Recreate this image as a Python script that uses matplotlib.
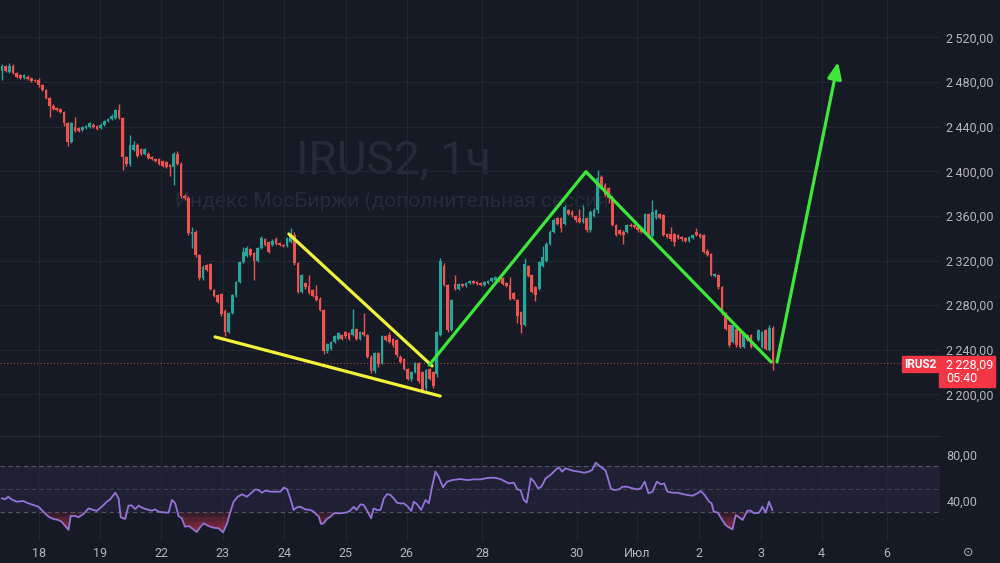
import numpy as np
import matplotlib.pyplot as plt
from matplotlib.patches import Rectangle

plt.rcParams['font.family'] = ['Roboto', 'DejaVu Sans']

# IRUS2, hourly candles (index points)
opens = [2490, 2494, 2489, 2494, 2488, 2486, 2484, 2485, 2484, 2482,
         2482, 2477, 2473, 2466, 2459, 2457, 2456, 2453, 2443, 2426,
         2440, 2439, 2437, 2439, 2440, 2442, 2441, 2439, 2442, 2445,
         2447, 2448, 2455, 2448, 2413, 2407, 2419, 2424, 2420, 2416,
         2416, 2413, 2411, 2411, 2409, 2408, 2406, 2404, 2416, 2407,
         2378, 2376, 2344, 2346, 2325,
         2304, 2316, 2317, 2294, 2289, 2290, 2275, 2256, 2273, 2289,
         2301, 2319, 2324, 2330, 2327, 2320, 2331, 2339, 2337, 2334,
         2339, 2336, 2334, 2333, 2337, 2343, 2318, 2292, 2300, 2297,
         2294, 2288, 2286, 2276, 2239, 2241, 2247, 2250, 2253, 2256,
         2255, 2253, 2259, 2250, 2256, 2253, 2234, 2221, 2237, 2228,
         2252, 2253, 2250, 2249, 2234, 2232, 2223, 2214, 2220, 2228,
         2220, 2206, 2223, 2220, 2218, 2253,
         2315, 2298, 2258, 2299, 2295, 2299, 2297, 2300, 2302, 2301,
         2300, 2298, 2300, 2302, 2303, 2305, 2304, 2300, 2298, 2291,
         2285, 2274, 2262, 2315, 2307, 2296, 2295, 2315, 2320, 2335,
         2346, 2358, 2358, 2353, 2365, 2364, 2360, 2358, 2355, 2358,
         2347, 2360, 2365,
         2395, 2388, 2385, 2376, 2352, 2347, 2346, 2346, 2352, 2352,
         2350, 2349, 2345, 2362, 2342, 2358, 2362, 2361, 2344, 2344,
         2344, 2343, 2341, 2340, 2338, 2340, 2346, 2344, 2343, 2329,
         2326, 2306, 2307, 2296, 2273, 2262, 2247, 2259, 2256, 2243,
         2253, 2253, 2243, 2249, 2243, 2258, 2240, 2260]
highs = [2496, 2495, 2497, 2496, 2489, 2487, 2487, 2486, 2485, 2483,
         2484, 2478, 2474, 2467, 2460, 2458, 2457, 2454, 2444, 2444,
         2449, 2440, 2441, 2442, 2444, 2443, 2442, 2443, 2446, 2448,
         2451, 2456, 2460, 2449, 2414, 2433, 2427, 2425, 2421, 2421,
         2417, 2414, 2412, 2412, 2410, 2409, 2407, 2417, 2418, 2408,
         2380, 2378, 2350, 2347, 2326,
         2316, 2317, 2318, 2295, 2290, 2291, 2277, 2274, 2290, 2302,
         2320, 2332, 2333, 2331, 2328, 2332, 2342, 2340, 2338, 2339,
         2341, 2337, 2335, 2341, 2349, 2346, 2319, 2308, 2301, 2307,
         2295, 2298, 2287, 2277, 2246, 2248, 2253, 2256, 2254, 2257,
         2256, 2277, 2260, 2257, 2273, 2254, 2235, 2238, 2238, 2253,
         2253, 2256, 2251, 2250, 2235, 2233, 2224, 2221, 2229, 2229,
         2221, 2223, 2224, 2221, 2257, 2322,
         2318, 2299, 2286, 2307, 2300, 2300, 2301, 2303, 2303, 2302,
         2301, 2302, 2303, 2305, 2306, 2306, 2305, 2301, 2305, 2292,
         2286, 2275, 2322, 2316, 2308, 2297, 2320, 2333, 2337, 2347,
         2358, 2359, 2359, 2370, 2366, 2365, 2361, 2366, 2370, 2359,
         2365, 2367, 2401,
         2397, 2390, 2386, 2378, 2353, 2348, 2347, 2353, 2354, 2353,
         2351, 2350, 2363, 2363, 2374, 2366, 2363, 2362, 2345, 2350,
         2345, 2344, 2342, 2341, 2342, 2344, 2349, 2345, 2344, 2330,
         2327, 2309, 2308, 2297, 2274, 2263, 2263, 2260, 2257, 2256,
         2254, 2254, 2245, 2259, 2257, 2259, 2262, 2261]
lows = [2482, 2489, 2488, 2487, 2484, 2483, 2483, 2482, 2480, 2480,
        2476, 2472, 2465, 2449, 2455, 2454, 2452, 2441, 2423, 2425,
        2435, 2435, 2436, 2438, 2439, 2439, 2437, 2438, 2441, 2444,
        2446, 2447, 2447, 2401, 2405, 2405, 2418, 2413, 2415, 2415,
        2411, 2410, 2408, 2406, 2404, 2403, 2396, 2388, 2406, 2376,
        2374, 2343, 2331, 2323, 2303,
        2303, 2311, 2294, 2287, 2282, 2270, 2252, 2255, 2272, 2287,
        2300, 2318, 2323, 2324, 2303, 2319, 2330, 2333, 2327, 2333,
        2334, 2333, 2332, 2332, 2336, 2316, 2291, 2291, 2295, 2290,
        2287, 2284, 2275, 2236, 2237, 2240, 2246, 2249, 2249, 2251,
        2249, 2252, 2249, 2249, 2252, 2233, 2219, 2219, 2225, 2227,
        2248, 2246, 2243, 2234, 2228, 2222, 2213, 2212, 2219, 2210,
        2202, 2204, 2213, 2206, 2216, 2252,
        2297, 2256, 2257, 2294, 2294, 2296, 2296, 2299, 2299, 2298,
        2297, 2297, 2299, 2301, 2302, 2301, 2298, 2296, 2285, 2285,
        2264, 2255, 2261, 2305, 2291, 2284, 2294, 2314, 2319, 2334,
        2345, 2352, 2346, 2352, 2361, 2359, 2355, 2354, 2354, 2346,
        2346, 2359, 2363,
        2384, 2378, 2372, 2351, 2342, 2343, 2335, 2345, 2350, 2349,
        2346, 2345, 2344, 2340, 2341, 2357, 2357, 2342, 2340, 2338,
        2333, 2339, 2338, 2337, 2337, 2339, 2342, 2340, 2327, 2324,
        2306, 2305, 2295, 2271, 2258, 2243, 2246, 2243, 2242, 2242,
        2248, 2242, 2242, 2248, 2242, 2240, 2239, 2222]
closes = [2494, 2490, 2494, 2488, 2485, 2484, 2486, 2483, 2481, 2481,
          2477, 2473, 2466, 2459, 2456, 2455, 2453, 2443, 2426, 2443,
          2436, 2436, 2440, 2441, 2443, 2440, 2438, 2442, 2445, 2447,
          2450, 2455, 2448, 2413, 2407, 2424, 2424, 2414, 2416, 2420,
          2412, 2411, 2409, 2407, 2405, 2404, 2404, 2416, 2407, 2378,
          2376, 2345, 2346, 2325, 2304,
          2314, 2312, 2295, 2288, 2283, 2272, 2256, 2273, 2289, 2301,
          2319, 2328, 2331, 2325, 2320, 2331, 2340, 2334, 2328, 2338,
          2335, 2334, 2333, 2340, 2344, 2318, 2292, 2307, 2296, 2291,
          2288, 2285, 2276, 2239, 2245, 2247, 2252, 2255, 2250, 2252,
          2250, 2259, 2250, 2256, 2253, 2234, 2221, 2237, 2227, 2252,
          2249, 2247, 2244, 2235, 2229, 2223, 2214, 2220, 2228, 2212,
          2204, 2222, 2214, 2208, 2256, 2320,
          2298, 2258, 2285, 2295, 2299, 2297, 2300, 2302, 2300, 2299,
          2298, 2301, 2302, 2304, 2305, 2303, 2299, 2297, 2286, 2286,
          2270, 2262, 2317, 2306, 2292, 2289, 2319, 2323, 2335, 2346,
          2356, 2353, 2349, 2368, 2362, 2361, 2356, 2355, 2357, 2347,
          2364, 2365, 2394,
          2385, 2379, 2376, 2352, 2343, 2344, 2343, 2352, 2351, 2350,
          2347, 2346, 2362, 2341, 2364, 2365, 2358, 2343, 2341, 2339,
          2337, 2340, 2339, 2338, 2341, 2343, 2343, 2341, 2328, 2325,
          2307, 2308, 2296, 2273, 2259, 2244, 2262, 2244, 2243, 2255,
          2249, 2243, 2244, 2258, 2256, 2241, 2260, 2228.09]

# RSI(14) read at its turning points (bar position, value)
rsi_x = [0.0, 0.8, 1.7, 2.6, 4.0, 5.8, 7.2, 8.6, 10.0, 11.3, 12.7, 14.1, 15.4,
         16.3, 17.3, 18.2, 18.8, 20.0, 20.9, 22.3, 23.7, 25.0, 25.9, 27.3, 28.7,
         29.6, 31.0, 31.9, 32.5, 33.7, 34.6, 35.5, 36.4, 37.4, 38.3, 39.6, 41.0,
         41.9, 42.8, 44.2, 45.6, 46.5, 47.4, 48.3, 49.2, 50.1, 51.1, 52.0, 53.3,
         54.2, 55.2, 56.5, 57.9, 59.3, 60.5, 61.6, 62.5, 63.4, 64.5, 65.7, 67.0,
         68.1, 69.3, 70.2, 71.1, 72.1, 73.4, 75.3, 76.2, 77.1, 78.0, 78.9, 79.8,
         80.7, 81.6, 83.0, 84.4, 85.3, 86.7, 87.3, 88.0, 88.9, 89.9, 90.8, 92.6,
         94.4, 95.3, 96.3, 97.0, 98.1, 99.0, 99.9, 101.0, 101.7, 102.6, 103.6,
         104.5, 105.4, 106.3, 107.2, 108.1, 109.0, 110.0, 110.9, 112.0, 112.7,
         113.6, 114.7, 115.9, 116.8, 117.7, 118.6, 119.5, 120.7, 121.8, 123.2,
         125.5, 127.3, 129.1, 131.0, 132.8, 134.6, 136.4,
         137.8, 138.7, 140.1, 141.0, 141.9, 142.8, 143.6, 144.7, 145.6, 146.7,
         147.6, 148.8, 150.1, 151.5, 152.4, 153.3, 154.2, 155.6, 156.5, 157.9,
         159.3, 160.6, 161.5, 162.5, 163.8, 165.2, 166.6, 167.5, 168.9, 169.8,
         171.1, 172.5, 173.9, 174.8, 175.9, 176.9, 178.0, 179.2, 180.3, 181.2,
         182.1, 183.5, 184.8, 186.2, 187.6, 189.0, 190.3, 191.2, 192.3, 193.5,
         194.2, 194.8, 195.9, 196.8, 198.0, 198.9, 199.9, 200.8, 201.7, 202.7,
         204.0, 204.9, 205.8, 207.2, 208.1, 209.0, 209.9, 210.8]
rsi_v = [42.3, 41.4, 43.7, 41.4, 39.4, 40.0, 38.0, 36.5, 35.0, 30.7, 26.4, 24.3, 23.5,
         22.0, 18.2, 14.8, 27.0, 27.0, 25.8, 28.7, 33.6, 32.2, 31.3, 35.0, 39.4,
         41.4, 47.2, 42.3, 25.8, 24.3, 35.9, 36.2, 33.0, 35.9, 34.2, 32.7, 31.6,
         32.7, 30.7, 30.1, 29.8, 40.9, 38.0, 27.0, 24.9, 17.6, 18.2, 16.2, 13.0,
         17.1, 20.6, 18.2, 16.8, 16.2, 12.7, 20.6, 30.7, 39.4, 43.7, 45.8, 43.7,
         46.6, 50.1, 49.5, 47.2, 49.0, 48.1, 48.1, 48.1, 51.6, 50.4, 42.3, 32.2,
         34.5, 35.0, 32.7, 32.2, 30.7, 26.4, 20.0, 20.6, 24.3, 26.4, 29.3, 29.3,
         30.1, 31.6, 35.0, 32.2, 37.1, 36.5, 31.6, 24.9, 33.6, 32.2, 32.2, 42.3,
         46.0, 45.2, 42.3, 38.5, 37.9, 37.9, 35.6, 31.3, 39.4, 37.1, 32.2, 40.9,
         38.0, 52.4, 65.5, 61.1, 51.9, 56.8, 58.2, 59.1, 58.2, 58.8, 58.8, 60.0,
         60.3, 59.1,
         56.8, 55.3, 55.9, 50.1, 49.5, 40.9, 38.5, 59.7, 56.8, 51.0, 52.4, 59.7,
         62.6, 67.0, 69.3, 65.5, 68.4, 67.0, 66.1, 65.5, 64.6, 65.5, 67.0, 73.3,
         69.8, 66.4, 51.0, 49.5, 50.1, 52.4, 52.4, 51.0, 50.1, 51.0, 56.8, 46.6,
         48.1, 56.8, 54.5, 55.3, 48.1, 47.2, 47.2, 46.1, 45.2, 44.6, 46.6, 48.7,
         45.2, 39.4, 38.0, 30.7, 29.8, 24.9, 19.1, 17.1, 15.3, 27.8, 25.8, 23.5,
         31.6, 31.6, 29.3, 29.8, 35.0, 29.8, 39.4, 32.2]

day_ticks = [10.1, 26.8, 43.5, 60.4, 77.2, 94.1, 110.8, 131.4, 157.3, 173.8,
             190.7, 207.6, 224.3, 242.1]
day_labels = ['18', '19', '22', '23', '24', '25', '26', '28', '30', 'Июл',
              '2', '3', '4', '6']
price_ticks = [2200, 2240, 2280, 2320, 2360, 2400, 2440, 2480, 2520]
rsi_ticks = [40, 80]

# hand-drawn lines on the chart, anchors as (bar, price)
wedge_low_x, wedge_low_y = [58.3, 119.9], [2251.6, 2198.6]
wedge_top_x, wedge_top_y = [78.5, 117.7], [2343.9, 2225.6]
swing_x, swing_y = [116.9, 159.8, 210.5], [2226.4, 2399.7, 2229.1]
target_x, target_y = [212.1, 228.8], [2229.1, 2498.0]

BG = '#161a25'
UP, DOWN = '#26a69a', '#ef5350'
GRID = '#222631'
TXT = '#b2b5be'
YELLOW, GREEN = '#f2f23a', '#3de83a'


def price_fmt(v):
    return f"{int(v) // 1000}\u2009{int(v) % 1000:03d},00"


fig = plt.figure(figsize=(10, 5.63), dpi=100, facecolor=BG)
ax = fig.add_axes([0, 127 / 563, 0.94, 436 / 563], facecolor=BG)
rx = fig.add_axes([0, 22 / 563, 0.94, 104 / 563], facecolor=BG, sharex=ax)

o, h, l, c = map(np.array, (opens, highs, lows, closes))
x = np.arange(len(c))
col = np.where(c >= o, UP, DOWN)

ax.vlines(x, l, h, colors=col, lw=1, zorder=3)
ax.bar(x, np.maximum(np.abs(c - o), 0.9), bottom=np.minimum(o, c), width=0.74,
       color=col, linewidth=0, zorder=4)

ax.axhline(c[-1], color=DOWN, lw=0.8, ls=(0, (1, 2)), alpha=0.7, zorder=2)

# watermark
ax.text(0.419, 0.633, 'IRUS2, 1ч', transform=ax.transAxes, ha='center',
        va='center', fontsize=33, color='#272b37', zorder=1)
ax.text(0.421, 0.539, 'Индекс МосБиржи (дополнительная сессия)',
        transform=ax.transAxes, ha='center', va='center', fontsize=15,
        color='#272b37', zorder=1)

# drawings
ax.plot(wedge_low_x, wedge_low_y, color=YELLOW, lw=2.3, zorder=6, solid_capstyle='round')
ax.plot(wedge_top_x, wedge_top_y, color=YELLOW, lw=2.3, zorder=6, solid_capstyle='round')
ax.plot(swing_x, swing_y, color=GREEN, lw=2.3, zorder=6, solid_capstyle='round')
ax.annotate('', xy=(target_x[1], target_y[1]), xytext=(target_x[0], target_y[0]),
            arrowprops=dict(arrowstyle='-|>,head_length=0.7,head_width=0.3',
                            color=GREEN, lw=2.3, shrinkA=0, shrinkB=0,
                            mutation_scale=14), zorder=6)

ax.set_xlim(-0.55, 256.7)
ax.set_ylim(2162.8, 2553.6)
ax.set_yticks(price_ticks)
ax.set_yticklabels([price_fmt(v) for v in price_ticks])
ax.set_xticks(day_ticks)
ax.grid(True, color=GRID, lw=0.8, zorder=0)
ax.tick_params(axis='y', length=0, labelcolor=TXT, labelsize=9, pad=4.5,
               left=False, labelleft=False, right=True, labelright=True)
ax.tick_params(axis='x', length=0, labelbottom=False)
for s in ax.spines.values():
    s.set_visible(False)
ax.spines['bottom'].set_visible(True)
ax.spines['bottom'].set_color('#2a2e39')

# RSI pane
rv = np.array(rsi_v)
rsx = np.array(rsi_x)
rx.axhspan(30, 70, color='#7e57c2', alpha=0.1, lw=0, zorder=1)
for lev, a in ((70, 0.6), (50, 0.35), (30, 0.6)):
    rx.axhline(lev, color='#787b86', lw=0.8, ls=(0, (4, 3)), alpha=a, zorder=2)
for lev in (30, 26, 22, 18, 14):
    rx.fill_between(rsx, rv, lev, where=rv < lev, interpolate=True,
                    color='#d8344c', alpha=0.18, lw=0, zorder=2)
rx.fill_between(rsx, rv, 70, where=rv > 70, interpolate=True,
                color='#26a69a', alpha=0.35, lw=0, zorder=2)
rx.plot(rsx, rv, color='#9373d8', lw=1.3, zorder=3)

rx.set_ylim(5.2, 95.65)
rx.set_yticks(rsi_ticks)
rx.set_yticklabels(['40,00', '80,00'])
rx.set_xticks(day_ticks)
rx.set_xticklabels(day_labels)
rx.grid(True, axis='x', color=GRID, lw=0.8, zorder=0)
rx.tick_params(axis='y', length=0, labelcolor=TXT, labelsize=9, pad=4.5,
               left=False, labelleft=False, right=True, labelright=True)
rx.tick_params(axis='x', length=0, labelcolor=TXT, labelsize=9, pad=4)
for s in rx.spines.values():
    s.set_visible(False)

# last price tags
yp = ax.transData.transform((0, c[-1]))[1]
H = 563.0
fig.patches.append(Rectangle((0.902, (yp - 9) / H), 0.036, 16 / H,
                             transform=fig.transFigure, color='#f23645', zorder=5))
fig.text(0.920, (yp - 1) / H, 'IRUS2', ha='center', va='center', color='white',
         fontsize=8.5, fontweight='bold', zorder=6)
fig.patches.append(Rectangle((0.939, (yp - 24) / H), 0.056, 31 / H,
                             transform=fig.transFigure, color='#f23645', zorder=5))
fig.text(0.9465, (yp - 2) / H, price_fmt(c[-1]).replace(',00', f",{round(c[-1] % 1 * 100):02d}"),
         ha='left', va='center', color='white', fontsize=9, zorder=6)
fig.text(0.9465, (yp - 15) / H, '05:40', ha='left', va='center', color='white',
         fontsize=9, zorder=6)

fig.text(0.968, 1 - 553 / H, '\u2299', family='DejaVu Sans', ha='center',
         va='center', color=TXT, fontsize=9)

fig.savefig('out.png', dpi=100, facecolor=BG)
